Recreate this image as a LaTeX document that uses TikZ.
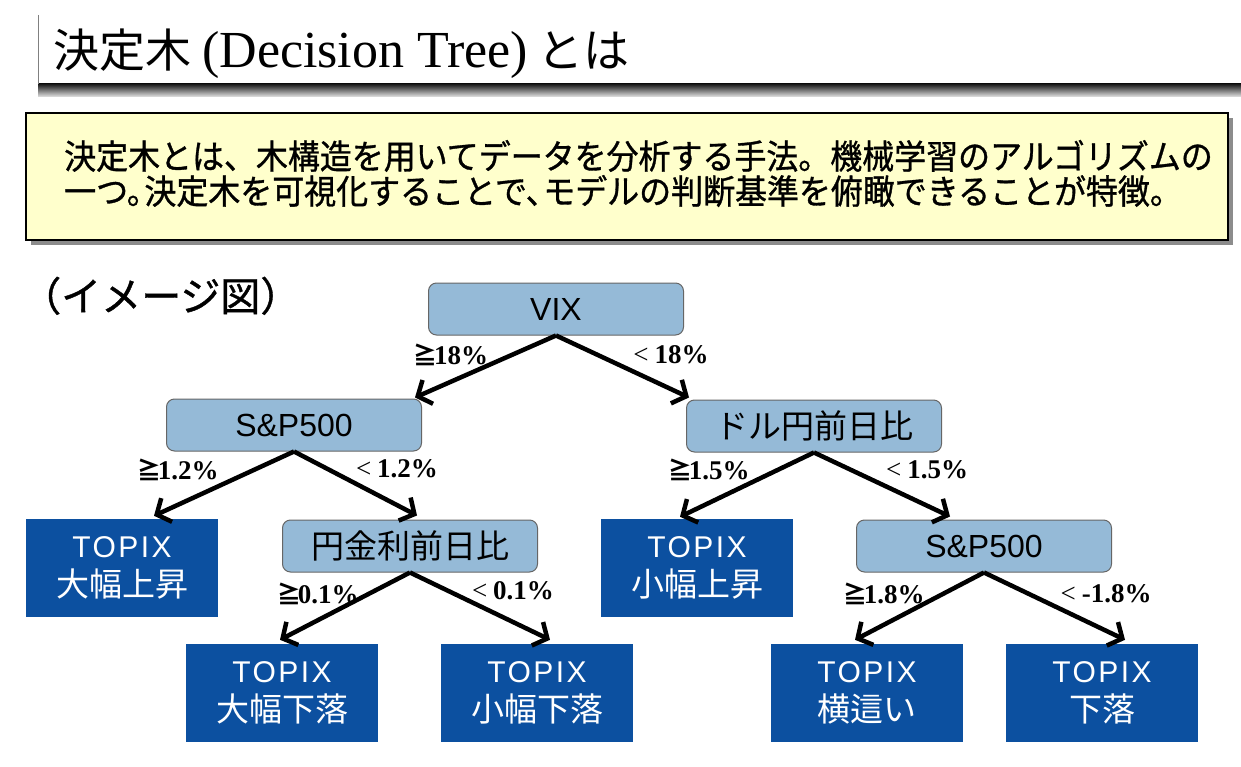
\documentclass[tikz,border=0pt]{standalone}
\usepackage{fontspec}
\usetikzlibrary{arrows.meta,calc}
\newfontfamily\jp{Noto Sans CJK JP}
\newfontfamily\jpb[FakeBold=1]{Noto Sans CJK JP}
\newfontfamily\tnr{Liberation Serif}
\newfontfamily\ars{Liberation Sans}
\newfontfamily\arsls[LetterSpace=8]{Liberation Sans}
\definecolor{nodeblue}{RGB}{149,186,215}
\definecolor{leafblue}{RGB}{12,80,160}
\definecolor{boxyellow}{RGB}{255,255,204}
\newcommand\gee{{\fontsize{24}{24}\selectfont\jp\kern-0.18em ≧\kern-0.14em}}
\newcommand\lss{{\mdseries <}\hspace{6pt}}
\newcommand\lj[1]{{\fontsize{33}{39}\selectfont\jp #1}}
\begin{document}
\begin{tikzpicture}[x=1pt,y=-1pt,
 cond/.style={draw=gray!80!black, line width=1pt, fill=nodeblue, rounded corners=8pt, minimum width=255pt, minimum height=52pt, inner sep=0pt, font=\fontsize{32}{32}\selectfont},
 leaf/.style={fill=leafblue, minimum width=192pt, minimum height=98pt, inner sep=0pt, text=white, align=center, font=\fontsize{30}{39}\selectfont},
 arr/.style={line width=4.5pt, -{Straight Barb[length=11pt,width=26pt]}},
 lbl/.style={font=\fontsize{27}{27}\selectfont\tnr\bfseries, inner sep=0pt}]
\useasboundingbox (0,0) rectangle (1241,767);
\fill[white] (0,0) rectangle (1241,767);
% title bar
\shade[top color=black!90, bottom color=black!10] (38,84) rectangle (1241,97);
\draw[gray, line width=1pt] (38,15) -- (38,84);
\node[anchor=base west, inner sep=0pt] (title) at (53,68)
 {{\fontsize{46}{46}\selectfont\jp 決定木}{\fontsize{52}{52}\selectfont\tnr\kern11pt(Decision Tree)\kern9pt}{\fontsize{46}{46}\selectfont\jp とは}};
% description box
\fill[black!45] (31,118) rectangle (1233,245);
\draw[black, line width=1.2pt, fill=boxyellow] (26,113) rectangle (1228,240);
\node[anchor=base west, inner sep=0pt, font=\fontsize{34}{34}\selectfont\jpb] (d1) at (64,169)
 {\scalebox{0.94}[1]{決定木とは、木構造を用いてデータを分析する手法。機械学習のアルゴリズムの}};
\node[anchor=base west, inner sep=0pt, font=\fontsize{34}{34}\selectfont\jpb] (d2) at (64,204)
 {\scalebox{0.94}[1]{一つ。\kern-0.45em 決定木を可視化することで、\kern-0.45em モデルの判断基準を俯瞰できることが特徴。}};
\node[anchor=base west, inner sep=0pt, font=\fontsize{40}{40}\selectfont\jpb] (img) at (21,311) {（イメージ図）};
% tree nodes
\node[cond] (vix) at (556,309) {\ars VIX};
\node[cond] (spl) at (294,425) {\ars S\&P500};
\node[cond] (dol) at (814,426) {\lj{ドル円前日比}};
\node[cond] (ykin) at (410,546) {\lj{円金利前日比}};
\node[cond] (sp2) at (984,546) {\ars S\&P500};
\node[leaf] (l1) at (122,568) {{\arsls TOPIX}\\\lj{大幅上昇}};
\node[leaf] (l2) at (697,568) {{\arsls TOPIX}\\\lj{小幅上昇}};
\node[leaf] (l3) at (282,693) {{\arsls TOPIX}\\\lj{大幅下落}};
\node[leaf] (l4) at (537,693) {{\arsls TOPIX}\\\lj{小幅下落}};
\node[leaf] (l5) at (867,693) {{\arsls TOPIX}\\\lj{横這い}};
\node[leaf] (l6) at (1102,693) {{\arsls TOPIX}\\\lj{下落}};
% connectors
\draw[arr] (vix.south) -- ([xshift=-7pt,yshift=1pt]spl.north east);
\draw[arr] (vix.south) -- ([xshift=3pt,yshift=2pt]dol.north west);
\draw[arr] (spl.south) -- ([xshift=32pt,yshift=3pt]l1.north);
\draw[arr] (spl.south) -- ([xshift=7pt,yshift=4pt]ykin.north);
\draw[arr] (dol.south) -- ([xshift=-17pt,yshift=2pt]l2.north);
\draw[arr] (dol.south) -- ([xshift=-34pt,yshift=3pt]sp2.north);
\draw[arr] (ykin.south) -- ([xshift=-2pt,yshift=4pt]l3.north);
\draw[arr] (ykin.south) -- ([xshift=13pt,yshift=4pt]l4.north);
\draw[arr] (sp2.south) -- ([xshift=-12pt,yshift=4pt]l5.north);
\draw[arr] (sp2.south) -- ([xshift=23pt,yshift=4pt]l6.north);
% labels
\node[lbl] (t1) at (453,355) {\gee 18\%};
\node[lbl] (t2) at (671,355) {\lss 18\%};
\node[lbl] (t3) at (180,470) {\gee 1.2\%};
\node[lbl] (t4) at (397,469) {\lss 1.2\%};
\node[lbl] (t5) at (711,470) {\gee 1.5\%};
\node[lbl] (t6) at (927,470) {\lss 1.5\%};
\node[lbl] (t7) at (320,594) {\gee 0.1\%};
\node[lbl] (t8) at (513,591) {\lss 0.1\%};
\node[lbl] (t9) at (886,594) {\gee 1.8\%};
\node[lbl] (t10) at (1106,594) {\lss -1.8\%};
\end{tikzpicture}
\end{document}
